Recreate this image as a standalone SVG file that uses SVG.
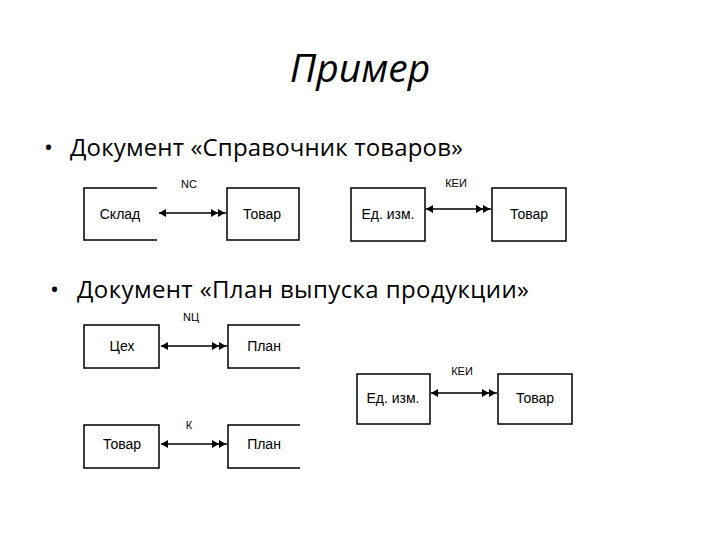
<svg xmlns="http://www.w3.org/2000/svg" width="720" height="540" viewBox="0 0 720 540">
<defs>
<marker id="s" markerWidth="10" markerHeight="10" refX="1" refY="5" orient="auto" markerUnits="userSpaceOnUse"><path d="M8,1 L1,5 L8,9 Z" fill="#000"/></marker>
<marker id="d" markerWidth="16" markerHeight="10" refX="15" refY="5" orient="auto" markerUnits="userSpaceOnUse"><path d="M0,1 L7,5 L0,9 Z M7,1 L14,5 L7,9 Z" fill="#000"/></marker>
</defs>
<style>
.b{fill:none;stroke:#000;stroke-width:1.5}
.t{font-family:"Liberation Sans Narrow","Liberation Sans",sans-serif;font-size:14px;text-anchor:middle}
.l{font-family:"Liberation Sans Narrow","Liberation Sans",sans-serif;font-size:11px;text-anchor:middle}
.h{font-family:"Open Sans","Liberation Sans",sans-serif;font-size:24px}
.c{stroke:#000;stroke-width:1.5;marker-start:url(#s);marker-end:url(#d)}
</style>
<rect width="720" height="540" fill="#fff"/>
<text x="360" y="82" text-anchor="middle" font-family="Open Sans,Liberation Sans,sans-serif" font-style="italic" font-size="39">Пример</text>
<text class="h" x="44" y="156">•</text><text class="h" x="70" y="156" textLength="393">Документ «Справочник товаров»</text>
<text class="h" x="50" y="298">•</text><text class="h" x="77" y="298" textLength="452">Документ «План выпуска продукции»</text>
<g id="n1"><path class="b" d="M157,188 H84 V240 H157"/><text class="t" x="120" y="219">Склад</text></g>
<g id="n2"><rect class="b" x="227" y="188" width="72" height="52"/><text class="t" x="262" y="219">Товар</text></g>
<g id="n3"><rect class="b" x="351" y="188" width="74" height="53"/><text class="t" x="388" y="219">Ед. изм.</text></g>
<g id="n4"><rect class="b" x="492" y="188" width="74" height="53"/><text class="t" x="529" y="219">Товар</text></g>
<g id="n5"><rect class="b" x="84" y="325" width="75" height="43"/><text class="t" x="122" y="351">Цех</text></g>
<g id="n6"><path class="b" d="M300,325 H228 V368 H300"/><text class="t" x="264" y="351">План</text></g>
<g id="n7"><rect class="b" x="84" y="425" width="75" height="43"/><text class="t" x="122" y="449">Товар</text></g>
<g id="n8"><path class="b" d="M300,425 H228 V468 H300"/><text class="t" x="264" y="449">План</text></g>
<g id="n9"><rect class="b" x="357" y="374" width="73" height="50"/><text class="t" x="393" y="403">Ед. изм.</text></g>
<g id="n10"><rect class="b" x="498" y="374" width="74" height="50"/><text class="t" x="535" y="403">Товар</text></g>
<g id="conn">
<line class="c" x1="159" y1="213" x2="226" y2="213"/><text class="l" x="189" y="188">NC</text>
<line class="c" x1="426" y1="209" x2="491" y2="209"/><text class="l" x="456" y="187">КЕИ</text>
<line class="c" x1="161" y1="346" x2="227" y2="346"/><text class="l" x="191" y="321">NЦ</text>
<line class="c" x1="161" y1="444" x2="227" y2="444"/><text class="l" x="189" y="429">К</text>
<line class="c" x1="431" y1="393" x2="497" y2="393"/><text class="l" x="462" y="375">КЕИ</text>
</g>
</svg>
